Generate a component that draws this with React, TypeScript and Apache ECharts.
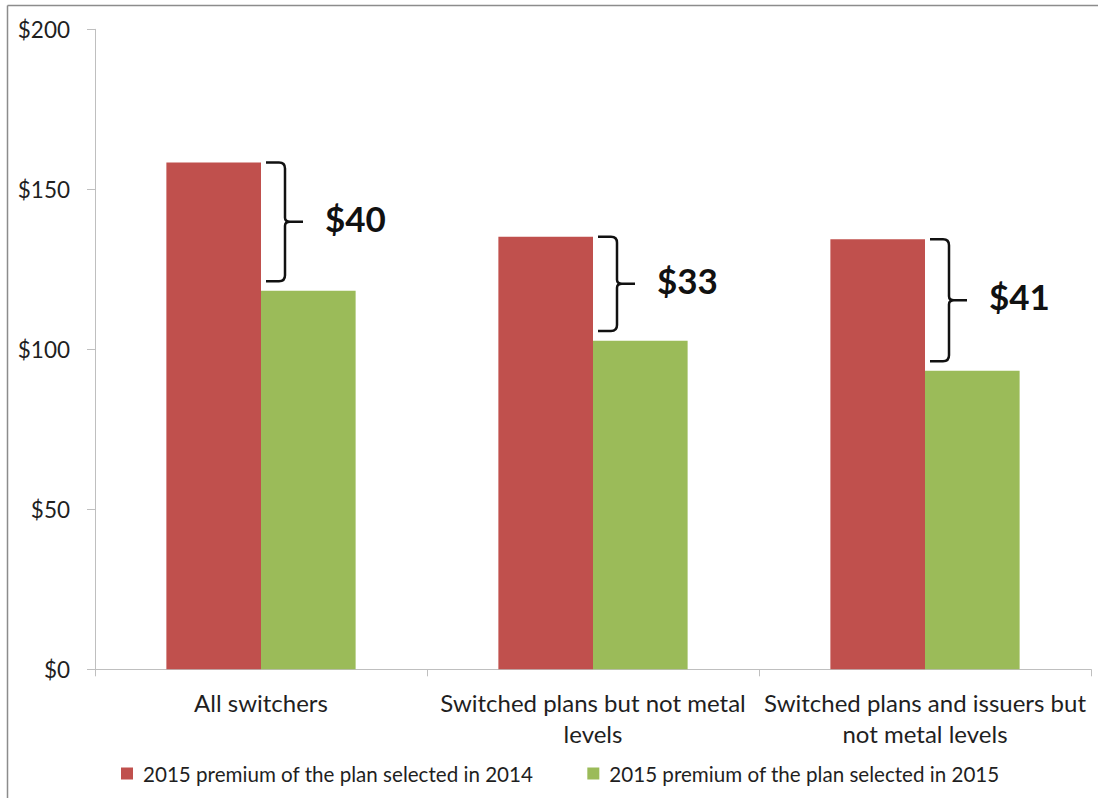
import React, { useEffect, useRef } from "react";
import * as echarts from "echarts";

const categories = [
  "All switchers",
  "Switched plans but not metal\nlevels",
  "Switched plans and issuers but\nnot metal levels",
];
const seriesNames = [
  "2015 premium of the plan selected in 2014",
  "2015 premium of the plan selected in 2015",
];
const premium2014Plan = [158.4, 135.2, 134.4];
const premium2015Plan = [118.3, 102.7, 93.3];
const gapLabels = ["$40", "$33", "$41"];
const yTicks = [0, 50, 100, 150, 200];

const FONT = "Lato, 'Noto Sans', sans-serif";

export default function App() {
  const ref = useRef<HTMLDivElement>(null);
  useEffect(() => {
    if (!ref.current) return;
    const chart = echarts.init(ref.current, undefined, { renderer: "svg" });
    const braceData = categories.map((_, i) => ({
      value: [i, premium2014Plan[i], premium2015Plan[i] + 3],
      label: gapLabels[i],
    }));
    chart.setOption({
      animation: false,
      backgroundColor: "#ffffff",
      textStyle: { fontFamily: FONT },
      grid: { left: 95, right: 7, top: 29.3, bottom: 128.7, containLabel: false },
      graphic: [
        {
          type: "line",
          shape: { x1: 7.5, y1: 5.5, x2: 1098, y2: 5.5 },
          style: { stroke: "#8c8c8c", lineWidth: 1.5 },
          silent: true,
        },
        {
          type: "line",
          shape: { x1: 7.5, y1: 5.5, x2: 7.5, y2: 798 },
          style: { stroke: "#8c8c8c", lineWidth: 1.5 },
          silent: true,
        },
      ],
      legend: {
        data: seriesNames,
        left: 121,
        top: 763,
        padding: 0,
        icon: "rect",
        itemWidth: 12,
        itemHeight: 12,
        itemGap: 54,
        textStyle: { fontFamily: FONT, fontSize: 20.6, color: "#1f1f1f", padding: [0, 0, 0, 5] },
      },
      xAxis: {
        type: "category",
        data: categories,
        axisLine: { show: true, lineStyle: { color: "#bfbfbf", width: 1 } },
        axisTick: { show: true, length: 7, lineStyle: { color: "#bfbfbf" } },
        axisLabel: {
          fontFamily: FONT,
          fontSize: 24,
          lineHeight: 31,
          margin: 18,
          color: "#1f1f1f",
          interval: 0,
        },
      },
      yAxis: {
        type: "value",
        min: 0,
        max: yTicks[yTicks.length - 1],
        interval: 50,
        axisLine: { show: true, lineStyle: { color: "#bfbfbf", width: 1 } },
        axisTick: { show: true, length: 8, lineStyle: { color: "#bfbfbf" } },
        splitLine: { show: false },
        axisLabel: {
          fontFamily: FONT,
          fontSize: 22.5,
          margin: 25,
          color: "#1f1f1f",
          formatter: (v: number) => "$" + v,
        },
      },
      series: [
        {
          name: seriesNames[0],
          type: "bar",
          data: premium2014Plan,
          itemStyle: { color: "#C0504D" },
          barGap: "0%",
          barCategoryGap: "43%",
        },
        {
          name: seriesNames[1],
          type: "bar",
          data: premium2015Plan,
          itemStyle: { color: "#9BBB59" },
          barGap: "0%",
          barCategoryGap: "43%",
        },
        {
          type: "custom",
          silent: true,
          data: braceData,
          renderItem: (params: any, api: any) => {
            const idx = api.value(0);
            const top = api.coord([idx, api.value(1)]);
            const bot = api.coord([idx, api.value(2)]);
            const cx = top[0];
            const x0 = cx + 5;
            const x1 = cx + 24;
            const tip = cx + 42;
            const t = top[1];
            const b = bot[1];
            const m = (t + b) / 2;
            const r = 6;
            const pathData =
              `M${x0},${t} L${x1 - r},${t} Q${x1},${t} ${x1},${t + r} L${x1},${m - 4} Q${x1},${m} ${x1 + 5},${m} L${tip},${m} ` +
              `M${x1 + 5},${m} Q${x1},${m} ${x1},${m + 4} L${x1},${b - r} Q${x1},${b} ${x1 - r},${b} L${x0},${b}`;
            return {
              type: "group",
              children: [
                {
                  type: "path",
                  shape: { pathData },
                  style: { stroke: "#111", lineWidth: 2.5, fill: "none" },
                },
                {
                  type: "text",
                  x: tip + 22,
                  y: m - 4,
                  style: {
                    text: braceData[params.dataIndex].label,
                    font: `bold 35px ${FONT}`,
                    fill: "#111",
                    textVerticalAlign: "middle",
                    verticalAlign: "middle",
                    align: "left",
                  },
                },
              ],
            };
          },
        },
      ],
    });
    return () => chart.dispose();
  }, []);
  return (
    <div
      ref={ref}
      style={{ position: "fixed", left: 0, top: 0, width: 1098, height: 798 }}
    />
  );
}
